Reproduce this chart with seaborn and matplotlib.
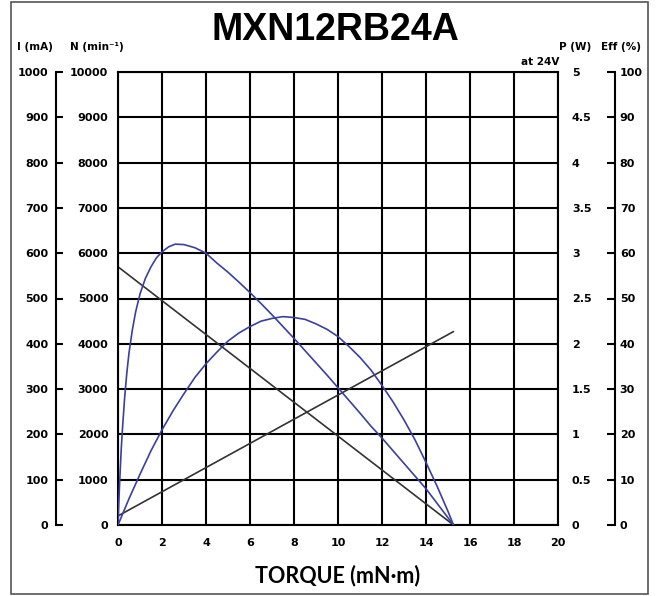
import matplotlib
matplotlib.use("Agg")
import matplotlib.pyplot as plt
import matplotlib.patches as patches
import seaborn as sns

# values (torque in mN·m)
speed_torque = [0, 15.25]
speed_rpm = [5700, 0]

current_torque = [0, 15.25]
current_ma = [20, 427]

eff_torque = [0, 0.03, 0.06, 0.1, 0.15, 0.2, 0.3, 0.4, 0.5, 0.65, 0.8, 1.0, 1.25, 1.5,
              1.75, 2.0, 2.3, 2.6, 3.0, 3.5, 4.0, 4.5, 5.0, 5.5, 6.0, 6.5, 7.0, 7.5, 8.0,
              8.5, 9.0, 9.5, 10.0, 10.5, 11.0, 11.5, 12.0, 12.5, 13.0, 13.5, 14.0, 14.5,
              15.0, 15.25]
eff_pct = [0, 4, 7.7, 12, 17, 21, 28, 33.5, 38, 43, 47, 51, 54.5, 57,
           59, 60.3, 61.4, 62, 61.9, 61.2, 60, 57.8, 55.8, 53.6, 51.3, 48.9, 46.4, 43.8, 41.2,
           38.5, 35.8, 33.1, 30.3, 27.5, 24.7, 21.8, 19.2, 16.4, 13.6, 10.8, 8, 4.8,
           1.6, 0]

power_torque = [0, 0.5, 1, 1.5, 2, 2.5, 3, 3.5, 4, 4.5, 5, 5.5, 6, 6.5, 7, 7.5, 8, 8.5,
                9, 9.5, 10, 10.5, 11, 11.5, 12, 12.5, 13, 13.5, 14, 14.5, 15, 15.25]
power_w = [0, 0.29, 0.56, 0.82, 1.05, 1.26, 1.45, 1.63, 1.78, 1.91, 2.03, 2.12, 2.19,
           2.25, 2.28, 2.30, 2.29, 2.27, 2.22, 2.16, 2.08, 1.97, 1.85, 1.71, 1.54, 1.36,
           1.16, 0.94, 0.69, 0.43, 0.15, 0]

x_ticks = list(range(0, 21, 2))
n_ticks = list(range(0, 10001, 1000))
i_ticks = list(range(0, 1001, 100))
p_ticks = [0, 0.5, 1, 1.5, 2, 2.5, 3, 3.5, 4, 4.5, 5]
p_labels = ["0", "0.5", "1", "1.5", "2", "2.5", "3", "3.5", "4", "4.5", "5"]
e_ticks = list(range(0, 101, 10))

sns.set_style("white")
plt.rcParams['font.family'] = ['DejaVu Sans']
plt.rcParams['text.color'] = 'black'
plt.rcParams['xtick.color'] = 'black'
plt.rcParams['ytick.color'] = 'black'

W, H = 658, 596
fig = plt.figure(figsize=(W / 100, H / 100), dpi=100)
ax = fig.add_axes([118 / W, 1 - 525 / H, 440 / W, 453 / H])

BLUE = "#3b3f9e"
DARK = "#333333"
tick_font = dict(fontsize=8, fontweight="bold", color="black")

# main axes: speed
ax.set_xlim(0, 20)
ax.set_ylim(0, 10000)
ax.set_xticks(x_ticks)
ax.set_yticks(n_ticks)
ax.grid(True, color="black", linewidth=1.5)
for s in ax.spines.values():
    s.set_color("black")
    s.set_linewidth(1.5)
ax.tick_params(axis="x", length=0, pad=9)
ax.tick_params(axis="y", length=0, pad=7)
for lab in ax.get_xticklabels() + ax.get_yticklabels():
    lab.set_fontsize(8)
    lab.set_fontweight("bold")
ax.set_axisbelow(True)

# current axis (left, offset)
ax_i = ax.twinx()
ax_i.set_ylim(0, 1000)
ax_i.yaxis.tick_left()
for k in ["top", "bottom", "right"]:
    ax_i.spines[k].set_visible(False)
ax_i.spines["left"].set_visible(True)
ax_i.spines["left"].set_position(("outward", 45))
ax_i.spines["left"].set_linewidth(1.5)
ax_i.spines["left"].set_color("black")
ax_i.set_yticks(i_ticks)
ax_i.tick_params(axis="y", direction="in", length=5, width=1.5, pad=5)
ax_i.set_yticklabels([str(v) for v in i_ticks], **tick_font)

# power axis (right, labels only)
ax_p = ax.twinx()
ax_p.set_ylim(0, 5)
for k in ax_p.spines:
    ax_p.spines[k].set_visible(False)
ax_p.set_yticks(p_ticks)
ax_p.set_yticklabels(p_labels, **tick_font)
ax_p.tick_params(axis="y", length=0, pad=10)

# efficiency axis (right, offset)
ax_e = ax.twinx()
ax_e.set_ylim(0, 100)
for k in ["top", "bottom", "left"]:
    ax_e.spines[k].set_visible(False)
ax_e.spines["right"].set_position(("outward", 41))
ax_e.spines["right"].set_linewidth(1.5)
ax_e.spines["right"].set_color("black")
ax_e.set_yticks(e_ticks)
ax_e.set_yticklabels([str(v) for v in e_ticks], **tick_font)
ax_e.tick_params(axis="y", direction="in", length=5.5, width=1.5, pad=3.5)

# curves
sns.lineplot(x=speed_torque, y=speed_rpm, ax=ax, color=DARK, linewidth=1.2, legend=False)
sns.lineplot(x=current_torque, y=current_ma, ax=ax_i, color=DARK, linewidth=1.2, legend=False)
sns.lineplot(x=eff_torque, y=eff_pct, ax=ax_e, color=BLUE, linewidth=1.2, legend=False,
             sort=False, estimator=None)
sns.lineplot(x=power_torque, y=power_w, ax=ax_p, color=BLUE, linewidth=1.2, legend=False,
             sort=False, estimator=None)
for a in (ax, ax_i, ax_p, ax_e):
    a.set_xlabel("")
    a.set_ylabel("")
ax.set_xlim(0, 20)

# texts
fig.text(335 / W, 1 - 30 / H, "MXN12RB24A", ha="center", va="center",
         fontsize=27, fontweight="bold", family="Liberation Sans")
lab_font = dict(fontsize=7.5, fontweight="bold", va="center")
fig.text(17 / W, 1 - 47 / H, "I (mA)", ha="left", **lab_font)
fig.text(70 / W, 1 - 47 / H, "N (min\u207b\u00b9)", ha="left", **lab_font)
fig.text(559 / W, 1 - 47 / H, "P (W)", ha="left", **lab_font)
fig.text(601 / W, 1 - 47 / H, "Eff (%)", ha="left", **lab_font)
fig.text(559 / W, 1 - 62 / H, "at 24V", ha="right", **lab_font)
fig.text(338 / W, 1 - 576 / H, "TORQUE (mN\u00b7m)", ha="center", va="center",
         fontsize=15.5, fontweight="bold", family="Lato")

# outer frame
fig.patches.append(patches.Rectangle((11 / W, 2 / H), 637 / W, 592 / H,
                                     transform=fig.transFigure, fill=False,
                                     edgecolor="#555555", linewidth=1.2))

fig.savefig("out.png", dpi=100)
